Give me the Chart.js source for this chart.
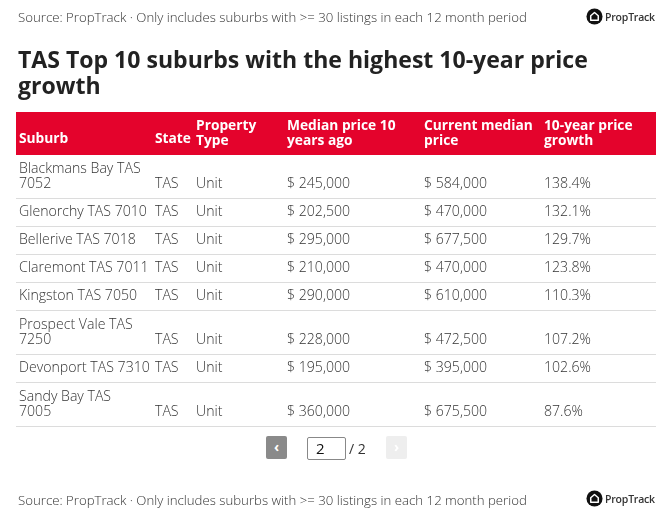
<!DOCTYPE html>
<html><head><meta charset="utf-8">
<script src="https://cdn.jsdelivr.net/npm/chart.js@4.4.1/dist/chart.umd.min.js"></script>
<style>
html,body{margin:0;padding:0;background:#fff;}
#wrap{position:relative;width:667px;height:520px;overflow:hidden;font-family:'Open Sans',sans-serif;color:#333;}
#c{position:absolute;left:0;top:0;}
.src{position:absolute;left:18px;white-space:nowrap;font-weight:300;line-height:20px;color:#333;}
.title{position:absolute;left:18px;top:46px;font-weight:700;line-height:26px;color:#222;width:640px;}
.logo{position:absolute;left:586px;display:flex;align-items:center;gap:2px;font-weight:600;font-size:10.5px;color:#333;letter-spacing:-0.2px;}
.btn{position:absolute;top:436px;width:21px;height:23px;border-radius:2px;color:#fff;font-size:14px;line-height:22px;text-align:center;font-weight:700;}
.box{position:absolute;left:307px;top:437px;width:29px;height:21px;border:1px solid #888;border-radius:2px;font-size:15px;line-height:21px;padding-left:8px;box-sizing:content-box;color:#111;}
.pg{position:absolute;left:349px;top:437px;line-height:23px;font-size:14px;color:#333;}
</style></head>
<body><div id="wrap">
<canvas id="c" width="667" height="520"></canvas>
<div class="src" id="src1" style="top:7px"></div>
<div class="logo" style="top:8px"><svg width="17" height="17" viewBox="0 0 18 18"><circle cx="9" cy="9" r="8.5" fill="#111"/><path d="M5 13V8.2L9 4.8l4 3.4V13z" fill="none" stroke="#fff" stroke-width="1.6" stroke-linejoin="round"/></svg><span>PropTrack</span></div>
<div class="title" id="title"></div>
<div class="btn" style="left:266px;background:#8a8a8a;">&#8249;</div>
<div class="box">2</div>
<div class="pg">/ 2</div>
<div class="btn" style="left:386px;background:#eeeeee;">&#8250;</div>
<div class="src" id="src2" style="top:490px"></div>
<div class="logo" style="top:490px"><svg width="17" height="17" viewBox="0 0 18 18"><circle cx="9" cy="9" r="8.5" fill="#111"/><path d="M5 13V8.2L9 4.8l4 3.4V13z" fill="none" stroke="#fff" stroke-width="1.6" stroke-linejoin="round"/></svg><span>PropTrack</span></div>
</div>
<script>
// ---- data ----
const suburbs = ['Blackmans Bay TAS 7052','Glenorchy TAS 7010','Bellerive TAS 7018','Claremont TAS 7011','Kingston TAS 7050','Prospect Vale TAS 7250','Devonport TAS 7310','Sandy Bay TAS 7005'];
const states = ['TAS','TAS','TAS','TAS','TAS','TAS','TAS','TAS'];
const propertyTypes = ['Unit','Unit','Unit','Unit','Unit','Unit','Unit','Unit'];
const price10yAgo = [245000,202500,295000,210000,290000,228000,195000,360000];
const currentPrice = [584000,470000,677500,470000,610000,472500,395000,675500];
const growth10y = [138.4,132.1,129.7,123.8,110.3,107.2,102.6,87.6];
const headers = ['Suburb','State','Property Type','Median price 10 years ago','Current median price','10-year price growth'];
const sourceText = 'Source: PropTrack \u00b7 Only includes suburbs with >= 30 listings in each 12 month period';
const titleText = 'TAS Top 10 suburbs with the highest 10-year price growth';

// ---- layout / style ----
const FAM = "'Open Sans', sans-serif";
const RED = '#e4032c';
const colLeft = [0,136,177,268,405,525,640];
const PAD = 3;
// suburb names that wrap onto two lines in the original layout (break before postcode)
const wrappedSuburbs = new Set(['Blackmans Bay TAS 7052','Prospect Vale TAS 7250','Sandy Bay TAS 7005']);
const mctx = document.createElement('canvas').getContext('2d');
function fit(sample, target, weight){ mctx.font = weight+' 100px '+FAM; return 100*target/mctx.measureText(sample).width; }
const bodyFs = fit('Glenorchy TAS 7010',128,300);
const headFs = fit('Current median',109,700);
const srcFs = fit(sourceText,509,300);
const titleFs = fit('TAS Top 10 suburbs with the highest 10-year price',570,700);
document.getElementById('src1').textContent = sourceText;
document.getElementById('src2').textContent = sourceText;
document.getElementById('src1').style.fontSize = srcFs+'px';
document.getElementById('src2').style.fontSize = srcFs+'px';
const t = document.getElementById('title'); t.textContent = titleText; t.style.fontSize = titleFs+'px';

function wrap(text, maxW, font){
  mctx.font = font; const words = text.split(' '); const lines=[]; let cur='';
  for(const w of words){ const test = cur? cur+' '+w : w; if(cur && mctx.measureText(test).width>maxW){ lines.push(cur); cur=w; } else cur=test; }
  lines.push(cur); return lines;
}
function suburbLines(s){ if(!wrappedSuburbs.has(s)) return [s]; const i=s.lastIndexOf(' '); return [s.slice(0,i), s.slice(i+1)]; }
const bodyFont = '300 '+bodyFs+'px '+FAM;
const headFont = '700 '+headFs+'px '+FAM;
const fmtMoney = v => '$ '+v.toLocaleString('en-US');
const fmtPct = v => v.toFixed(1)+'%';
const rows = suburbs.map((s,i)=>[s,states[i],propertyTypes[i],fmtMoney(price10yAgo[i]),fmtMoney(currentPrice[i]),fmtPct(growth10y[i])]);
const cellLines = rows.map(r=>r.map((v,j)=> j===0 ? suburbLines(v) : [v]));
const headLines = headers.map((h,j)=>wrap(h,colLeft[j+1]-colLeft[j]-2*PAD,headFont));
const HEAD_H = 43, LINE_H = 15;
const rowH = cellLines.map(c=>12+16*Math.max(...c.map(l=>l.length)));
const rowBottom = []; let acc = HEAD_H; rowH.forEach(h=>{acc+=h; rowBottom.push(acc);});
const totalH = acc;

const tablePlugin = {
  id:'table',
  afterDraw(chart){
    const ctx = chart.ctx, xs = chart.scales.x, ys = chart.scales.y;
    const px = v=>xs.getPixelForValue(v), py = v=>ys.getPixelForValue(v);
    ctx.save();
    ctx.fillStyle = RED;
    ctx.fillRect(px(0),py(0),px(640)-px(0),py(HEAD_H)-py(0));
    ctx.textBaseline='middle'; ctx.textAlign='left';
    ctx.fillStyle='#fff'; ctx.font=headFont;
    headLines.forEach((ls,j)=>{
      const base = ls.length>1 ? HEAD_H-14 : HEAD_H-16;
      ls.forEach((l,k)=>{ ctx.fillText(l, px(colLeft[j]+PAD), py(base-(ls.length-1-k)*LINE_H)); });
    });
    ctx.font = bodyFont;
    cellLines.forEach((r,i)=>{
      const b = rowBottom[i];
      ctx.fillStyle='#333';
      r.forEach((ls,j)=>{ ls.forEach((l,k)=>{ ctx.fillText(l, px(colLeft[j]+PAD), py(b-15-(ls.length-1-k)*LINE_H)); }); });
      ctx.strokeStyle='#dcdcdc'; ctx.lineWidth=1;
      ctx.beginPath(); const y=Math.round(py(b))-0.5; ctx.moveTo(px(0),y); ctx.lineTo(px(640),y); ctx.stroke();
    });
    ctx.restore();
  }
};

new Chart(document.getElementById('c'),{
  type:'scatter',
  data:{datasets:[{data:rowBottom.map((b,i)=>({x:0,y:b})),pointRadius:0}]},
  options:{
    responsive:false, animation:false, events:[],
    layout:{padding:{left:16,right:11,top:112,bottom:520-112-totalH}},
    scales:{x:{type:'linear',min:0,max:640,display:false},y:{type:'linear',min:0,max:totalH,reverse:true,display:false}},
    plugins:{legend:{display:false},tooltip:{enabled:false},title:{display:false}}
  },
  plugins:[tablePlugin]
});
</script>
</body></html>
